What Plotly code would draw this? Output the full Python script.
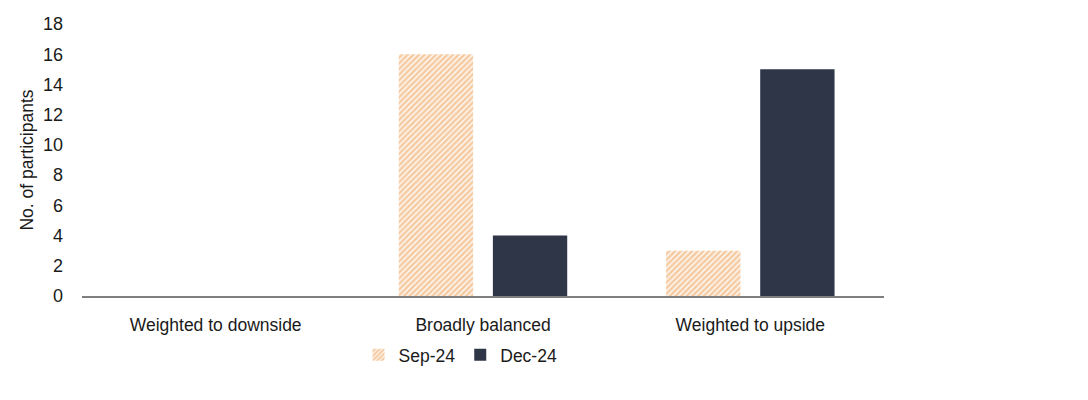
import plotly.graph_objects as go

categories = ["Weighted to downside", "Broadly balanced", "Weighted to upside"]
sep_24 = [0, 16, 3]
dec_24 = [0, 4, 15]
y_ticks = list(range(0, 19, 2))

fig = go.Figure()
fig.add_trace(go.Bar(
    x=categories, y=sep_24, name="Sep-24",
    marker=dict(
        color="white",
        line=dict(width=0),
        pattern=dict(shape="/", fgcolor="#EC9848", bgcolor="white", size=4, solidity=0.7),
    ),
))
fig.add_trace(go.Bar(
    x=categories, y=dec_24, name="Dec-24",
    marker=dict(color="#2E3648", line=dict(width=0)),
))

fig.update_layout(
    width=1088, height=400,
    margin=dict(l=74, r=212, t=16, b=112, autoexpand=False),
    paper_bgcolor="white", plot_bgcolor="white",
    font=dict(family="Liberation Sans, Arial, sans-serif", size=17.5, color="#1A1A1A"),
    barmode="group", bargap=0.296, bargroupgap=0.21,
    legend=dict(orientation="h", x=0.472, xanchor="center", y=-0.15, yanchor="top",
                font=dict(size=17.5)),
    showlegend=True,
)
fig.update_xaxes(showline=True, linecolor="#7F7F7F", linewidth=1.5, ticks="",
                 showgrid=False, ticklabelstandoff=12, automargin=False)
fig.update_yaxes(range=[0, 18], tickvals=y_ticks, showgrid=False, zeroline=False,
                 showline=False, ticks="", ticklabelstandoff=18, automargin=False,
                 tickfont=dict(size=18),
                 title=dict(text="No. of participants", standoff=4, font=dict(size=17.5)))

fig.write_html("out.html")
